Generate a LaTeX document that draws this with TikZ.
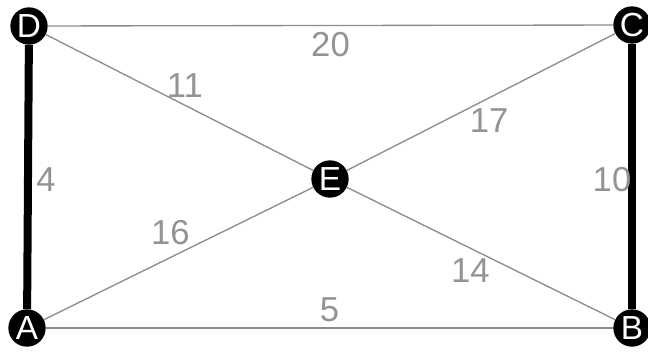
\documentclass[tikz,border=0pt]{standalone}
\usepackage{fontspec}
\setmainfont{Liberation Sans}
\usepackage{tikz}
\usetikzlibrary{positioning}

\begin{document}
\begin{tikzpicture}[x=0.75pt, y=-0.75pt,
  vtx/.style={circle,fill=black,text=white,inner sep=0pt,minimum size=28pt,font=\fontsize{25}{25}\selectfont},
  wt/.style={text=gray!85,font=\fontsize{26}{26}\selectfont,inner sep=0pt},
  light/.style={draw=gray!90,line width=1pt},
  heavy/.style={draw=black,line width=6pt}]
  \useasboundingbox (0,0) rectangle (648,354);
  \node[vtx] (A) at (27,328) {A};
  \node[vtx] (B) at (632,328) {B};
  \node[vtx] (C) at (632,25) {C};
  \node[vtx] (D) at (29,26) {D};
  \node[vtx] (E) at (330,179) {E};
  \draw[light] (D) -- node[wt,pos=0.5,yshift=-14pt]{20} (C);
  \draw[light] (A) -- node[wt,pos=0.5,yshift=14pt]{5} (B);
  \draw[light] (D) -- node[wt,pos=0.52,yshift=15pt]{11} (E);
  \draw[light] (E) -- node[wt,pos=0.53,yshift=-17pt]{17} (C);
  \draw[light] (A) -- node[wt,pos=0.47,yshift=19pt]{16} (E);
  \draw[light] (E) -- node[wt,pos=0.46,yshift=-17pt]{14} (B);
  \draw[heavy] (D) -- node[wt,pos=0.51,xshift=13.5pt]{4} (A);
  \draw[heavy] (C) -- node[wt,pos=0.51,xshift=-15pt]{10} (B);
\end{tikzpicture}
\end{document}
